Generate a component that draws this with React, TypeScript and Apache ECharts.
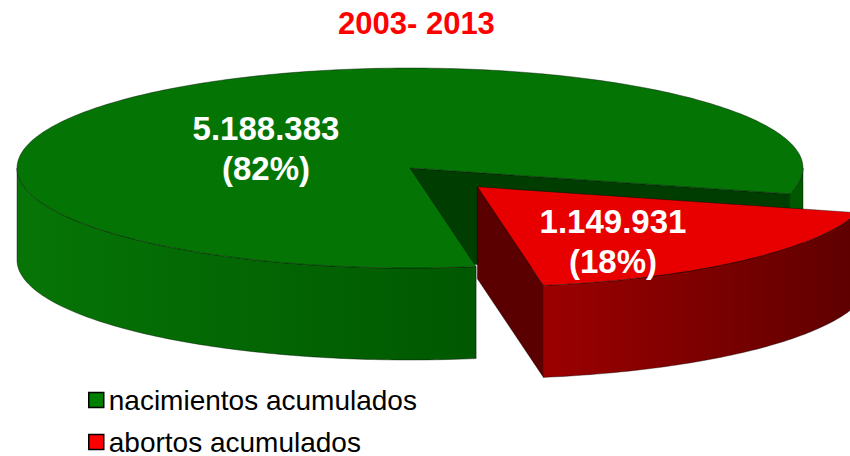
import React, { useEffect, useRef } from "react";
import * as echarts from "echarts";

// ---- data ----
const titleText = "2003- 2013";
const categories = ["nacimientos acumulados", "abortos acumulados"];
const values = [5188383, 1149931];
const valueLabels = ["5.188.383", "1.149.931"];
const percentLabels = ["(82%)", "(18%)"];

// ---- layout / style ----
const FONT = '"Liberation Sans", Arial, sans-serif';
const CX = 410;
const CY = 168;
const RX = 393;
const RY = 100;
const DEPTH = 92;
const START_ANGLE = 15; // degrees, clockwise on screen, where the first placed slice begins
const sliceOrder = [1, 0]; // placement order around the pie
const explode = [0, 100];
const labelPos = [
  [266, 148],
  [613, 241],
];
const labelGap = 40;
const topColors = ["#047404", "#e80000"];
const sideColors = [
  ["#067506", "#005800"],
  ["#9c0000", "#5e0000"],
];
const cutColors = ["#003d00", "#5a0000"];
const legendColors = ["#007f00", "#ff0000"];
const EDGE = "rgba(0,0,0,0.55)";

const rad = (d: number) => (d * Math.PI) / 180;

const total = values.reduce((s, v) => s + v, 0);
const angles: { a: number; b: number }[] = [];
{
  let acc = START_ANGLE;
  for (const i of sliceOrder) {
    const span = (360 * values[i]) / total;
    angles[i] = { a: acc, b: acc + span };
    acc += span;
  }
}

function rim(t: number, ox: number, oy: number, dz: number) {
  return [CX + ox + RX * Math.cos(rad(t)), CY + oy + RY * Math.sin(rad(t)) + dz];
}

function arcPts(a: number, b: number, ox: number, oy: number, dz: number) {
  const pts: number[][] = [];
  const n = Math.max(2, Math.ceil(Math.abs(b - a)));
  for (let k = 0; k <= n; k++) {
    pts.push(rim(a + ((b - a) * k) / n, ox, oy, dz));
  }
  return pts;
}

function visibleRanges(a: number, b: number) {
  const out: number[][] = [];
  for (let k = -1; k <= 2; k++) {
    const lo = Math.max(a, 360 * k);
    const hi = Math.min(b, 360 * k + 180);
    if (hi > lo) out.push([lo, hi]);
  }
  return out;
}

function makeRenderItem(i: number) {
  return (_params: any, api: any) => {
    const v = api.value(0);
    const { a, b } = angles[i];
    const m = (a + b) / 2;
    const ox = explode[i] * Math.cos(rad(m));
    const oy = explode[i] * Math.sin(rad(m)) * (RY / RX);
    const c = [CX + ox, CY + oy];
    const children: any[] = [];

    // cut faces
    const faceAt = (t: number) => {
      const r0 = rim(t, ox, oy, 0);
      const r1 = rim(t, ox, oy, DEPTH);
      children.push({
        type: "polygon",
        shape: { points: [c, r0, r1, [c[0], c[1] + DEPTH]] },
        style: { fill: cutColors[i], stroke: EDGE, lineWidth: 0.7 },
      });
    };
    if (Math.cos(rad(a)) < 0) faceAt(a);
    if (Math.cos(rad(b)) > 0) faceAt(b);

    // outer side walls
    for (const [lo, hi] of visibleRanges(a, b)) {
      const top = arcPts(lo, hi, ox, oy, 0);
      const bot = arcPts(hi, lo, ox, oy, DEPTH);
      const xs = top.map((p) => p[0]);
      const x0 = Math.min(...xs);
      const x1 = Math.max(...xs);
      const g =
        i === 0 && hi - lo < 40
          ? sideColors[i][1]
          : new echarts.graphic.LinearGradient(
              x0,
              0,
              x1,
              0,
              [
                { offset: 0, color: sideColors[i][0] },
                { offset: 1, color: sideColors[i][1] },
              ],
              true
            );
      children.push({
        type: "polygon",
        shape: { points: top.concat(bot) },
        style: { fill: g, stroke: EDGE, lineWidth: 0.7 },
      });
    }

    // top face
    children.push({
      type: "polygon",
      shape: { points: [c].concat(arcPts(a, b, ox, oy, 0)) },
      style: { fill: topColors[i], stroke: EDGE, lineWidth: 0.7 },
    });

    // labels
    const [lx, ly] = labelPos[i];
    children.push({
      type: "text",
      style: {
        text: valueLabels[i],
        x: lx,
        y: ly - labelGap / 2,
        fill: "#ffffff",
        fontSize: 33,
        fontWeight: "bold",
        fontFamily: FONT,
        align: "center",
        verticalAlign: "middle",
      },
      info: v,
    });
    children.push({
      type: "text",
      style: {
        text: percentLabels[i],
        x: lx,
        y: ly + labelGap / 2,
        fill: "#ffffff",
        fontSize: 33,
        fontWeight: "bold",
        fontFamily: FONT,
        align: "center",
        verticalAlign: "middle",
      },
    });
    return { type: "group", children };
  };
}

export default function App() {
  const ref = useRef<HTMLDivElement>(null);
  useEffect(() => {
    if (!ref.current) return;
    const chart = echarts.init(ref.current, undefined, { renderer: "svg" });
    chart.setOption({
      animation: false,
      backgroundColor: "#ffffff",
      title: {
        text: titleText,
        left: 333,
        top: 3,
        textStyle: {
          color: "#ff0000",
          fontSize: 31,
          fontWeight: "bold",
          fontFamily: FONT,
        },
      },
      legend: {
        data: categories,
        orient: "vertical",
        left: 88,
        top: 386,
        height: 120,
        padding: 0,
        itemWidth: 15,
        itemHeight: 15,
        itemGap: 14,
        icon: "rect",
        selectedMode: false,
        itemStyle: { borderColor: "#000000", borderWidth: 1.5 },
        textStyle: { fontSize: 28, color: "#000000", fontFamily: FONT },
      },
      series: categories.map((name, i) => ({
        type: "custom",
        name,
        coordinateSystem: "none",
        z: i + 1,
        itemStyle: { color: legendColors[i] },
        data: [[values[i]]],
        renderItem: makeRenderItem(i),
        silent: true,
      })),
    });
    return () => chart.dispose();
  }, []);
  return (
    <div
      ref={ref}
      style={{ position: "fixed", left: 0, top: 0, width: 850, height: 456 }}
    />
  );
}
